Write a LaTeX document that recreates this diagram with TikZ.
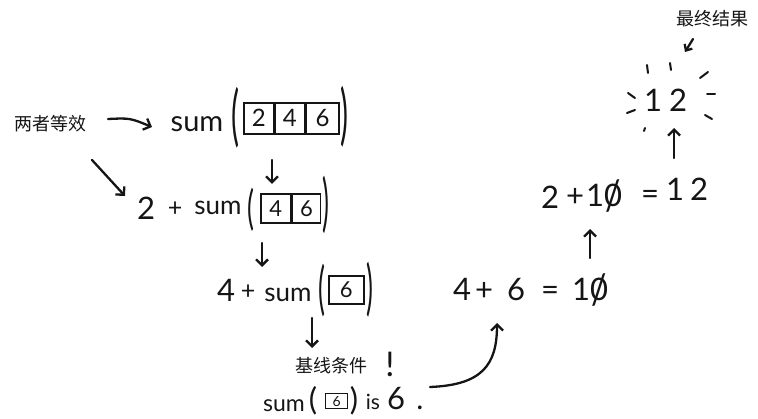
\documentclass[tikz,border=0pt]{standalone}
\usepackage{graphicx}
\usepackage{fontspec}
\setmainfont{Lato}
\newfontfamily\cjk{Noto Sans CJK SC}
\usetikzlibrary{arrows.meta}
\newcommand\fsz[1]{\fontsize{#1}{#1}\selectfont}
\newcommand\slz{\ooalign{0\cr\hidewidth\raisebox{-0.12em}{\scalebox{1.1}[1.35]{/}}\hidewidth\cr}}
\newcommand\tallp[2]{\scalebox{1}[#1]{#2}}
\definecolor{ink}{HTML}{151515}
\tikzset{
  txt/.style={inner sep=0pt, anchor=base, text=ink},
  par/.style={inner sep=0pt, anchor=center, text=ink},
  cell/.style={draw=ink, line width=1.6pt, inner sep=0pt, anchor=north west, text=ink},
  arr/.style={draw=ink, line width=2.3pt, line cap=round, -{Straight Barb[length=6pt,width=12pt]}},
  ray/.style={draw=ink, line width=2pt, line cap=round},
  cjklab/.style={inner sep=0pt, anchor=center, text=ink, font=\cjk\fsz{18}}
}
\begin{document}
\begin{tikzpicture}[x=1pt,y=-1pt]
\useasboundingbox (0,0) rectangle (758,419);
% label left
\node[cjklab] (same) at (50,124) {两者等效};
\coordinate (sameA) at (108,119);
\coordinate (sameB) at (152,127);
\coordinate (sameC) at (92,160);
\coordinate (sameD) at (125,196);
\draw[arr] (sameA) .. controls (130,118) .. (sameB);
\draw[arr] (sameC) -- (sameD);
% line 1
\node[txt, font=\fsz{29}] (s1) at (197,132) {sum};
\node[par, font=\fsz{30}] (p1l) at (236,118) {\tallp{2.2}{(}};
\node[cell, minimum width=30pt, minimum height=31pt, font=\fsz{24}] (c11) at (243,102) {2};
\node[cell, minimum width=29pt, minimum height=31pt, font=\fsz{24}] (c12) at (c11.north east) {4};
\node[cell, minimum width=33pt, minimum height=31pt, font=\fsz{24}] (c13) at (c12.north east) {6};
\node[par, font=\fsz{30}] (p1r) at (345,117) {\tallp{2.2}{)}};
\coordinate (d1a) at (272,160);
\coordinate (d1b) at (272,184);
\draw[arr] (d1a) -- (d1b);
% line 2
\node[txt, font=\fsz{31}] (two2) at (146,220) {2};
\node[txt, font=\fsz{25}] (plus2) at (175,217) {+};
\node[txt, font=\fsz{26}] (s2) at (218,215) {sum};
\node[par, font=\fsz{26}] (p2l) at (251,210) {\tallp{1.8}{(}};
\node[cell, minimum width=30pt, minimum height=29pt, font=\fsz{22}] (c21) at (260,193) {4};
\node[cell, minimum width=28pt, minimum height=29pt, font=\fsz{22}] (c22) at (c21.north east) {6};
\node[par, font=\fsz{26}] (p2r) at (326,205) {\tallp{2.4}{)}};
\coordinate (d2a) at (262,243);
\coordinate (d2b) at (262,267);
\draw[arr] (d2a) -- (d2b);
% line 3
\node[txt, font=\fsz{31}] (four3) at (226,302) {4};
\node[txt, font=\fsz{25}] (plus3) at (248,300) {+};
\node[txt, font=\fsz{26}] (s3) at (288,302) {sum};
\node[par, font=\fsz{26}] (p3l) at (322,291) {\tallp{2.2}{(}};
\node[cell, minimum width=35pt, minimum height=28pt, font=\fsz{22}] (c31) at (328,275) {6};
\node[par, font=\fsz{26}] (p3r) at (370,290) {\tallp{2.3}{)}};
\coordinate (d3a) at (312,318);
\coordinate (d3b) at (312,348);
\draw[arr] (d3a) -- (d3b);
% base case
\node[cjklab] (base) at (331,366) {基线条件};
\node[txt, font=\fsz{34}] (bang) at (390,377) {!};
\node[txt, font=\fsz{23}] (s4) at (284,412) {sum};
\node[par, font=\fsz{31}] (p4l) at (313,401) {(};
\node[cell, minimum width=22pt, minimum height=15pt, font=\fsz{14}, line width=1.3pt] (c41) at (325,393) {6};
\node[par, font=\fsz{31}] (p4r) at (354,401) {)};
\node[txt, font=\fsz{21}] (is4) at (373,410) {is};
\node[txt, font=\fsz{31}] (six4) at (396,410) {6};
\node[txt, font=\fsz{30}] (dot4) at (420,410) {.};
\coordinate (cvA) at (430,387);
\coordinate (cvB) at (497,323);
\draw[arr] (cvA) .. controls (482,385) and (497,365) .. (cvB);
% 4+6 = 10
\node[txt, font=\fsz{31}] (r1a) at (462,301) {4};
\node[txt, font=\fsz{31}] (r1b) at (484,301) {+};
\node[txt, font=\fsz{31}] (r1c) at (516,301) {6};
\node[txt, font=\fsz{31}] (r1d) at (550,301) {=};
\node[txt, font=\fsz{31}] (r1e) at (590,301) {1\slz};
\coordinate (u1a) at (590,258);
\coordinate (u1b) at (590,229);
\draw[arr] (u1a) -- (u1b);
% 2 + 10 = 12
\node[txt, font=\fsz{31}] (r2a) at (550,209) {2};
\node[txt, font=\fsz{31}] (r2b) at (575,207) {+};
\node[txt, font=\fsz{31}] (r2c) at (604,207) {1\slz};
\node[txt, font=\fsz{31}] (r2e) at (650,205) {=};
\node[txt, font=\fsz{31}] (r2f) at (675,201) {1};
\node[txt, font=\fsz{31}] (r2g) at (699,201) {2};
\coordinate (u2a) at (674,158);
\coordinate (u2b) at (674,128);
\draw[arr] (u2a) -- (u2b);
% final 12
\node[txt, font=\fsz{31}] (fa) at (653,112) {1};
\node[txt, font=\fsz{31}] (fb) at (678,112) {2};
\draw[ray] (647,65) -- (648,73);
\draw[ray] (670,63) -- (671,70);
\draw[ray] (700,78) -- (708,72);
\draw[ray] (707,94) -- (715,94);
\draw[ray] (705,115) -- (712,119);
\draw[ray] (628,93) -- (635,98);
\draw[ray] (627,113) -- (635,110);
\draw[ray] (645,128) -- (644,131);
% final label
\node[cjklab] (final) at (712,19) {最终结果};
\coordinate (fkA) at (693,39);
\coordinate (fkB) at (685,52);
\draw[arr, -{Straight Barb[length=5pt,width=9pt]}] (fkA) -- (fkB);
\end{tikzpicture}
\end{document}
